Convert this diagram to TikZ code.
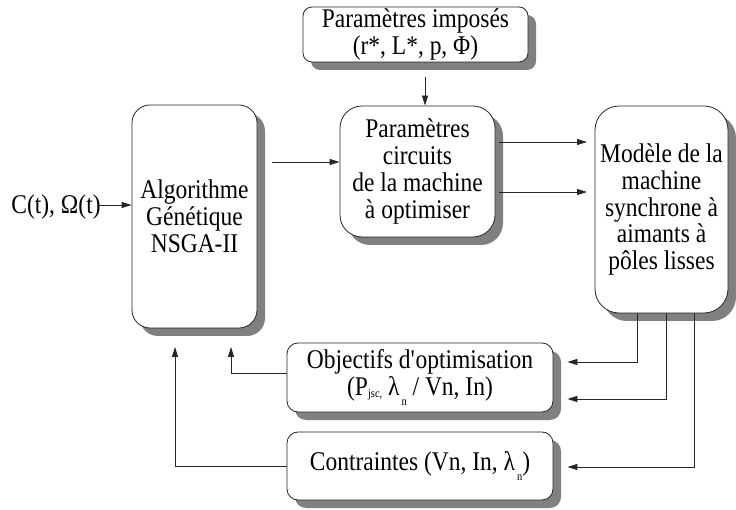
\documentclass[tikz,border=0pt]{standalone}
\usepackage{fontspec}
\setmainfont[FakeStretch=0.87]{Liberation Serif}
\usetikzlibrary{shadows,arrows.meta,calc}
\newcommand{\subsm}[2]{\raisebox{#1}{\fontsize{12}{12}\selectfont #2}}
\begin{document}
\begin{tikzpicture}[x=1pt,y=1pt,
  box/.style={draw=black!85,line width=0.8pt,fill=white,align=center,inner sep=0pt,
    font=\fontsize{27}{26.8}\selectfont,
    drop shadow={shadow xshift=8pt,shadow yshift=-8pt,fill=black!50,opacity=1}},
  arr/.style={line width=0.8pt,draw=black!85,-{Triangle[length=10pt,width=6pt]}},
  ln/.style={line width=0.8pt,draw=black!85}]
\useasboundingbox (0,0) rectangle (736,509);
\node[box,rounded corners=9pt,minimum width=225pt,minimum height=55pt] (top) at (415.5,474.5)
  {Paramètres imposés\\(r*, L*, p, Φ)};
\node[box,rounded corners=18pt,minimum width=125pt,minimum height=223pt] (algo) at (194.5,292.5)
  {Algorithme\\Génétique\\NSGA-II};
\node[box,rounded corners=22pt,minimum width=155pt,minimum height=131pt] (circ) at (417.5,337.5)
  {Paramètres\\circuits\\de la machine\\à optimiser};
\node[box,rounded corners=24pt,minimum width=133pt,minimum height=207pt] (model) at (661.5,299.5)
  {Modèle de la\\machine\\synchrone à\\aimants à\\pôles lisses};
\node[box,rounded corners=11pt,minimum width=266pt,minimum height=69pt] (obj) at (420,131.5)
  {Objectifs d\textquotesingle optimisation\\(P\subsm{-2pt}{jsc,}\ λ\subsm{-10pt}{\,n} / Vn, In)};
\node[box,rounded corners=11pt,minimum width=266pt,minimum height=68pt] (cons) at (420,43)
  {Contraintes (Vn, In, λ\subsm{-10pt}{\,n})};
\node[inner sep=0pt,font=\fontsize{27}{26.8}\selectfont] (cin) at (56,302) {C(t), Ω(t)};
% connectors
\coordinate (e1) at (97,304);
\draw[arr] (e1) -- (e1 -| algo.west);
\coordinate (a1) at (425,432);
\draw[arr] (a1) -- (a1 |- circ.north);
\coordinate (a2) at (272,347);
\draw[arr] (a2) -- (a2 -| circ.west);
\coordinate (b1) at (587,367);
\coordinate (b2) at (587,317);
\draw[arr] ($(b1 -| circ.east)+(4,0)$) -- (b1);
\draw[arr] ($(b2 -| circ.east)+(4,0)$) -- (b2);
\coordinate (c1) at (637,147);
\coordinate (c2) at (666,110);
\coordinate (c3) at (694,42);
\draw[arr] (c1 |- model.south) -- (c1) -- ($(c1 -| obj.east)+(14,0)$);
\draw[arr] (c2 |- model.south) -- (c2) -- ($(c2 -| obj.east)+(14,0)$);
\draw[arr] (c3 |- model.south) -- (c3) -- ($(c3 -| cons.east)+(14,0)$);
\coordinate (d1) at (231,162);
\coordinate (d2) at (175,162);
\draw[arr] ([yshift=4.5pt]obj.west) -| (d1);
\draw[arr] (cons.west) -| (d2);
\end{tikzpicture}
\end{document}
